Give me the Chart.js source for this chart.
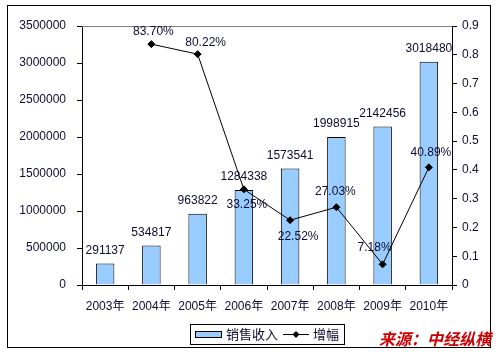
<!DOCTYPE html>
<html>
<head>
<meta charset="utf-8">
<script src="https://cdn.jsdelivr.net/npm/chart.js@4/dist/chart.umd.min.js"></script>
<style>
  html, body { margin: 0; padding: 0; background: #fff; }
  #wrap { width: 497px; height: 353px; position: relative; }
</style>
</head>
<body>
<div id="wrap"><canvas id="c" width="497" height="353"></canvas></div>
<script>
// ---- data ----
const years = ['2003年', '2004年', '2005年', '2006年', '2007年', '2008年', '2009年', '2010年'];
const salesRevenue = [291137, 534817, 963822, 1284338, 1573541, 1998915, 2142456, 3018480];
const growthRate = [null, 0.837, 0.8022, 0.3325, 0.2252, 0.2703, 0.0718, 0.4089];
const leftTicks = [0, 500000, 1000000, 1500000, 2000000, 2500000, 3000000, 3500000];
const rightTicks = [0, 0.1, 0.2, 0.3, 0.4, 0.5, 0.6, 0.7, 0.8, 0.9];
const seriesNames = ['销售收入', '增幅'];
const sourceText = '来源：中经纵横';

// ---- styling ----
const TXT = '#0c0c30';
const FONT = "'Liberation Sans', Arial, 'Noto Sans CJK SC', sans-serif";
const CJK = "'Noto Sans CJK SC', 'Liberation Sans', sans-serif";
const BAR_COLOR = '#99CCFF';
// label offsets (dx, dy) relative to each growth point
const growthLabelOffset = [[0,0],[2,-12],[8,-11],[3,15],[8,16],[-1,-16],[-8,-17],[2,-15]];

const decorPlugin = {
  id: 'decor',
  beforeDraw(chart) {
    const ctx = chart.ctx;
    ctx.save();
    ctx.fillStyle = '#fff';
    ctx.fillRect(0, 0, chart.width, chart.height);
    ctx.restore();
  },
  beforeDatasetsDraw(chart) {
    const ctx = chart.ctx, a = chart.chartArea;
    ctx.save();
    ctx.strokeStyle = '#808080';
    ctx.lineWidth = 1;
    ctx.beginPath();
    ctx.moveTo(Math.round(a.left), Math.round(a.top) + 0.5);
    ctx.lineTo(Math.round(a.right), Math.round(a.top) + 0.5);
    ctx.stroke();
    ctx.restore();
  },
  afterDraw(chart) {
    const ctx = chart.ctx;
    ctx.save();
    // data labels
    ctx.font = '12px ' + FONT;
    ctx.fillStyle = TXT;
    ctx.textAlign = 'center';
    ctx.textBaseline = 'middle';
    const barMeta = chart.getDatasetMeta(0);
    barMeta.data.forEach((el, i) => {
      ctx.fillText(String(salesRevenue[i]), el.x, el.y - 13);
    });
    const lineMeta = chart.getDatasetMeta(1);
    lineMeta.data.forEach((el, i) => {
      const v = growthRate[i];
      if (v === null || v === undefined) return;
      const o = growthLabelOffset[i];
      ctx.fillText((v * 100).toFixed(2) + '%', el.x + o[0], el.y + o[1]);
    });

    // outer border
    ctx.strokeStyle = '#000';
    ctx.lineWidth = 1;
    ctx.strokeRect(7.5, 5.5, 483, 342);

    // legend box
    ctx.fillStyle = '#fff';
    ctx.fillRect(190.5, 324.5, 154, 20);
    ctx.strokeRect(190.5, 324.5, 154, 20);
    const ds = chart.data.datasets;
    ctx.fillStyle = ds[0].backgroundColor;
    ctx.fillRect(195.5, 331.5, 26, 6);
    ctx.strokeStyle = '#000';
    ctx.strokeRect(195.5, 331.5, 26, 6);
    ctx.font = '13px ' + CJK;
    ctx.fillStyle = TXT;
    ctx.textAlign = 'left';
    ctx.textBaseline = 'middle';
    ctx.fillText(ds[0].label, 226, 334.5);
    ctx.beginPath();
    ctx.moveTo(283, 334.5);
    ctx.lineTo(309, 334.5);
    ctx.stroke();
    ctx.fillStyle = '#000';
    ctx.beginPath();
    ctx.moveTo(296, 331); ctx.lineTo(299.5, 334.5); ctx.lineTo(296, 338); ctx.lineTo(292.5, 334.5);
    ctx.closePath(); ctx.fill();
    ctx.fillStyle = TXT;
    ctx.fillText(ds[1].label, 313, 334.5);

    // source text
    ctx.font = 'italic bold 16px ' + CJK;
    ctx.fillStyle = '#cc0000';
    ctx.textAlign = 'right';
    ctx.textBaseline = 'middle';
    ctx.fillText(sourceText, 491, 339);
    ctx.restore();
  }
};

const fixTicks = (arr) => (scale) => { scale.ticks = arr.map(v => ({ value: v })); };

new Chart(document.getElementById('c'), {
  data: {
    labels: years,
    datasets: [
      {
        type: 'bar',
        label: seriesNames[0],
        data: salesRevenue,
        backgroundColor: BAR_COLOR,
        borderColor: '#000',
        borderWidth: 1,
        categoryPercentage: 1,
        barPercentage: 0.4,
        yAxisID: 'y',
        order: 2
      },
      {
        type: 'line',
        label: seriesNames[1],
        data: growthRate,
        borderColor: '#000',
        borderWidth: 1,
        backgroundColor: '#000',
        pointStyle: 'rectRot',
        pointRadius: 3.5,
        pointBackgroundColor: '#000',
        pointBorderColor: '#000',
        tension: 0,
        spanGaps: false,
        yAxisID: 'y1',
        order: 1
      }
    ]
  },
  options: {
    responsive: false,
    animation: false,
    events: [],
    layout: { padding: { top: 26, left: 0, right: 0, bottom: 0 } },
    plugins: {
      legend: { display: false },
      tooltip: { enabled: false },
      title: { display: false }
    },
    scales: {
      x: {
        offset: true,
        grid: { display: true, drawOnChartArea: false, drawTicks: true, tickLength: 5, color: '#000', offset: true },
        border: { display: true, color: '#000', width: 1 },
        ticks: { color: TXT, font: { family: FONT, size: 12 }, padding: 9, maxRotation: 0, autoSkip: false },
        afterFit: (s) => { s.height = 68; }
      },
      y: {
        position: 'left',
        min: 0,
        max: 3500000,
        afterBuildTicks: fixTicks(leftTicks),
        grid: { display: true, drawOnChartArea: false, drawTicks: true, tickLength: 5, color: '#000' },
        border: { display: true, color: '#000', width: 1 },
        ticks: { color: TXT, font: { family: FONT, size: 12 }, padding: 11, callback: v => String(v) },
        afterFit: (s) => { s.width = 82; }
      },
      y1: {
        position: 'right',
        min: 0,
        max: 0.9,
        afterBuildTicks: fixTicks(rightTicks),
        grid: { display: true, drawOnChartArea: false, drawTicks: true, tickLength: 5, color: '#000' },
        border: { display: true, color: '#000', width: 1 },
        ticks: { color: TXT, font: { family: FONT, size: 12 }, padding: 5, callback: v => String(+v.toFixed(1)) },
        afterFit: (s) => { s.width = 45; }
      }
    }
  },
  plugins: [decorPlugin]
});
</script>
</body>
</html>
